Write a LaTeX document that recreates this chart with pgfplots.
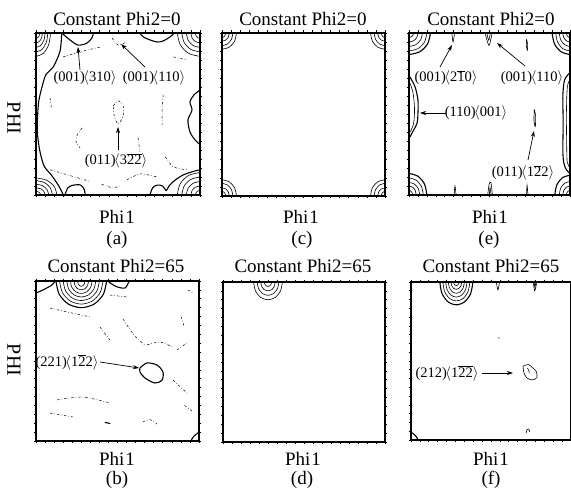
\documentclass[border=0pt]{standalone}
\usepackage{fontspec}
\setmainfont{Liberation Serif}
\usepackage{pgfplots}
\pgfplotsset{compat=1.18}
\usetikzlibrary{arrows.meta}
\newcommand{\ob}[1]{\ensuremath{\overline{\mbox{#1}}}}
\newcommand{\la}{\kern-1.5pt\ensuremath{\langle}}
\newcommand{\ra}{\ensuremath{\rangle}}
\newcommand{\tf}{\fontsize{19}{22}\selectfont}
\newcommand{\af}{\fontsize{14.5}{17}\selectfont}
\pgfplotsset{
 odf/.style={scale only axis, anchor=north west, xmin=0,xmax=90,ymin=0,ymax=90, y dir=reverse,
   xtick={0,5,...,90}, ytick={0,5,...,90}, xticklabels={}, yticklabels={},
   xtick pos=both, ytick pos=both, tick align=outside, major tick length=2.5pt,
   every tick/.style={black,line width=0.6pt}, axis line style={line width=1.3pt}, clip=true},
 cs/.style={black, line width=0.6pt, smooth, mark=none},
 ct/.style={black, line width=1.1pt, smooth, mark=none},
 cd/.style={black, line width=0.5pt, smooth, mark=none, dash pattern=on 2.5pt off 2pt on 0.6pt off 2pt},
}
\tikzset{ann/.style={line width=0.7pt, -{Stealth[length=6pt,width=4pt]}}}
\begin{document}
\begin{tikzpicture}
\path[use as bounding box] (0,0) rectangle (571pt,-489pt);
% ---------------- (a)
\begin{axis}[odf, at={(36pt,-33pt)}, width=164pt, height=162pt]
% TL
\addplot[cs] coordinates {(2,0)(1.74,1.5)(1,2.61)(0,3)};
\addplot[cs] coordinates {(3.5,0)(3.05,2.75)(1.75,4.79)(0,5.5)};
\addplot[cs] coordinates {(5,0)(4.35,4)(2.5,6.96)(0,8)};
\addplot[cs] coordinates {(6.5,0)(5.66,5.25)(3.25,9.14)(0,10.5)};
\addplot[cs] coordinates {(8,0)(6.96,6.5)(4,11.31)(0,13)};
% TR
\addplot[cs] coordinates {(87.5,0)(87.83,1.5)(88.75,2.61)(90,3)};
\addplot[cs] coordinates {(85,0)(85.65,2.75)(87.5,4.79)(90,5.5)};
\addplot[cs] coordinates {(82.5,0)(83.48,4)(86.25,6.96)(90,8)};
\addplot[cs] coordinates {(80,0)(81.3,5.25)(85,9.14)(90,10.5)};
\addplot[cs] coordinates {(77.5,0)(79.13,6.5)(83.75,11.31)(90,13)};
% BL
\addplot[cs] coordinates {(2.5,90)(2.18,89)(1.25,88.26)(0,88)};
\addplot[cs] coordinates {(5,90)(4.35,88)(2.5,86.52)(0,86)};
\addplot[cs] coordinates {(7,90)(6.09,87)(3.5,84.78)(0,84)};
\addplot[cs] coordinates {(9,90)(7.83,86)(4.5,83.04)(0,82)};
\addplot[cs] coordinates {(11.5,90)(10.01,85.25)(5.75,81.74)(0,80.5)};
% BR
\addplot[cs] coordinates {(87.5,90)(87.83,88.75)(88.75,87.83)(90,87.5)};
\addplot[cs] coordinates {(85,90)(85.65,87.5)(87.5,85.65)(90,85)};
\addplot[cs] coordinates {(82.5,90)(83.48,86.25)(86.25,83.48)(90,82.5)};
\addplot[cs] coordinates {(80,90)(81.3,85)(85,81.3)(90,80)};
\addplot[cs] coordinates {(77.5,90)(79.13,83.75)(83.75,79.13)(90,77.5)};
% solid level
\addplot[ct] coordinates {(14.1,0)(13.2,10)(9.4,19)(5.5,23)(3.3,30)(1.5,38)(0.8,48)(0.9,57)(2.2,66)(4.5,74)(8.5,79)(12.5,85)(15,90)};
\addplot[ct] coordinates {(14.1,0)(18.7,3.9)(23.1,6.7)(27.8,5.7)(30.6,2.9)(31.5,0)};
\addplot[ct] coordinates {(57,0)(58.9,2.2)(62.7,3.9)(66.5,5)(69.8,4.4)(73.5,2.2)(76,0)};
\addplot[ct] coordinates {(90,31.7)(86.7,34.4)(84.5,38.3)(85.6,42.8)(83.4,48.3)(84.5,55)(87.3,59.4)(90,62)};
\addplot[ct] coordinates {(15.9,90)(17.5,86)(20.5,84.5)(24.5,84.5)(26.5,87)(27,90)};
\addplot[ct] coordinates {(62.5,90)(64,86)(66.5,84.5)(69.5,85)(71.5,87.5)(73,85)(76,82)(80.5,79)(86,77)(90,76)};
% dash-dot level
\addplot[cd] coordinates {(42.4,40.5)(45.1,37.7)(47.8,40.5)(47.8,46)(45.1,50.5)(42.9,46)(42.4,40.5)};
\addplot[cd] coordinates {(25.3,52.7)(22.6,56.6)(22,60.5)(24.2,63.8)};
\addplot[cd] coordinates {(7.7,76)(18.7,79.2)(29.7,82.5)};
\addplot[cd] coordinates {(50,81.6)(57.2,78.3)(66.5,80)};
\addplot[cd] coordinates {(69.8,34.4)(69.2,42)(69.2,51)};
\addplot[cd] coordinates {(41.8,2.8)(45.1,6.7)(49.5,5)};
\addplot[cd] coordinates {(14.9,13.3)(24.2,10.5)(35.2,7.8)};
\addplot[cd] coordinates {(75.4,13.3)(83,15)};
\addplot[cd] coordinates {(71,68.8)(75.4,74.4)(83,76)};
\addplot[cd] coordinates {(7.7,36)(8.5,42)};
\addplot[cd] coordinates {(56,58)(57,66)};
\addplot[cd] coordinates {(36,84)(42,86)(46,85)};
\end{axis}
% ---------------- (c)
\begin{axis}[odf, at={(222pt,-33pt)}, width=163pt, height=163pt]
\addplot[cs] coordinates {(2,0)(1.74,1.25)(1,2.18)(0,2.5)};
\addplot[cs] coordinates {(4,0)(3.48,2.25)(2,3.92)(0,4.5)};
\addplot[cs] coordinates {(6,0)(5.22,3.5)(3,6.09)(0,7)};
\addplot[cs] coordinates {(8,0)(6.96,4.5)(4,7.83)(0,9)};
\addplot[cs] coordinates {(88,0)(88.26,1.25)(89,2.18)(90,2.5)};
\addplot[cs] coordinates {(86,0)(86.52,2.25)(88,3.92)(90,4.5)};
\addplot[cs] coordinates {(84,0)(84.78,3.5)(87,6.09)(90,7)};
\addplot[cs] coordinates {(82,0)(83.04,4.5)(86,7.83)(90,9)};
\addplot[cs] coordinates {(2,90)(1.74,88.75)(1,87.82)(0,87.5)};
\addplot[cs] coordinates {(4,90)(3.48,87.75)(2,86.08)(0,85.5)};
\addplot[cs] coordinates {(6,90)(5.22,86.5)(3,83.91)(0,83)};
\addplot[cs] coordinates {(8,90)(6.96,85.5)(4,82.17)(0,81)};
\addplot[cs] coordinates {(88,90)(88.26,88.75)(89,87.82)(90,87.5)};
\addplot[cs] coordinates {(86,90)(86.52,87.75)(88,86.08)(90,85.5)};
\addplot[cs] coordinates {(84,90)(84.78,86.5)(87,83.91)(90,83)};
\addplot[cs] coordinates {(82,90)(83.04,85.5)(86,82.17)(90,81)};
\end{axis}
% ---------------- (e)
\begin{axis}[odf, at={(409pt,-33pt)}, width=161pt, height=162pt]
\addplot[cs] coordinates {(2.5,0)(2.18,1.25)(1.25,2.18)(0,2.5)};
\addplot[cs] coordinates {(5,0)(4.35,2.5)(2.5,4.35)(0,5)};
\addplot[cs] coordinates {(7.5,0)(6.53,3.75)(3.75,6.53)(0,7.5)};
\addplot[cs] coordinates {(10,0)(8.7,5)(5,8.7)(0,10)};
\addplot[ct] coordinates {(12,0)(10.44,6)(6,10.44)(0,12)};
\addplot[cs] coordinates {(88,0)(88.26,1.25)(89,2.18)(90,2.5)};
\addplot[cs] coordinates {(86,0)(86.52,2.5)(88,4.35)(90,5)};
\addplot[cs] coordinates {(84,0)(84.78,3.75)(87,6.53)(90,7.5)};
\addplot[cs] coordinates {(82,0)(83.04,5)(86,8.7)(90,10)};
\addplot[ct] coordinates {(80,0)(81.3,6)(85,10.44)(90,12)};
\addplot[cs] coordinates {(2,90)(1.74,88.75)(1,87.82)(0,87.5)};
\addplot[cs] coordinates {(4,90)(3.48,87.5)(2,85.65)(0,85)};
\addplot[cs] coordinates {(6,90)(5.22,86.5)(3,83.91)(0,83)};
\addplot[cs] coordinates {(8,90)(6.96,85.25)(4,81.74)(0,80.5)};
\addplot[ct] coordinates {(10,90)(8.7,84)(5,79.56)(0,78)};
\addplot[cs] coordinates {(88,90)(88.26,88.75)(89,87.82)(90,87.5)};
\addplot[cs] coordinates {(86,90)(86.52,87.5)(88,85.65)(90,85)};
\addplot[cs] coordinates {(84,90)(84.78,86.25)(87,83.48)(90,82.5)};
\addplot[ct] coordinates {(81.5,90)(82.6,84.5)(85.75,80.43)(90,79)};
% left and right edge ridges
\addplot[ct] coordinates {(0.6,24.5)(3.4,30)(5,37.2)(5,44.5)(4.5,50)(1.7,55.6)(0.6,57.8)};
\addplot[cs] coordinates {(0.6,28)(2.2,33)(3,40)(3,46)(2.4,51)(0.6,55)};
\addplot[ct] coordinates {(90,22)(87,26)(86,35)(86.2,50)(86,65)(86.5,72)(88,76)(90,78)};
\addplot[cs] coordinates {(90,26)(88.5,30)(88,45)(88.2,65)(88.5,72)(90,75)};
% small peaks
\addplot[cs] coordinates {(24,0)(24.6,5)(25.5,0)};
\addplot[cs] coordinates {(42.5,0)(44.2,6)(45,6.5)(46.5,0)};
\addplot[cs] coordinates {(43.5,0)(44.6,4)(45.5,0)};
\addplot[cs] coordinates {(65.7,3.5)(66.3,6)(66.2,9.5)(65.6,7)(65.7,3.5)};
\addplot[cs] coordinates {(70,42.5)(70.8,46)(70.6,52)(69.9,49)(70,42.5)};
\addplot[cs] coordinates {(25.2,90)(25.7,85)(26.3,90)};
\addplot[cs] coordinates {(44,90)(44.8,84)(45.8,83)(46.6,90)};
\addplot[cs] coordinates {(44.9,90)(45.3,86)(45.9,90)};
\addplot[cs] coordinates {(65.7,90)(66,84.5)(66.5,90)};
\end{axis}
% ---------------- (b)
\begin{axis}[odf, at={(36pt,-281pt)}, width=163pt, height=160pt]
\addplot[cs] coordinates {(23,0)(23.26,1.5)(24,2.61)(25,3)(26,2.61)(26.74,1.5)(27,0)};
\addplot[cs] coordinates {(21,0)(21.52,2.5)(23,4.35)(25,5)(27,4.35)(28.48,2.5)(29,0)};
\addplot[cs] coordinates {(19,0)(19.78,3.5)(22,6.09)(25,7)(28,6.09)(30.22,3.5)(31,0)};
\addplot[cs] coordinates {(17,0)(18.04,4.5)(21,7.83)(25,9)(29,7.83)(31.96,4.5)(33,0)};
\addplot[cs] coordinates {(15,0)(16.3,5.5)(20,9.57)(25,11)(30,9.57)(33.7,5.5)(35,0)};
\addplot[cs] coordinates {(13,0)(14.56,6.5)(19,11.31)(25,13)(31,11.31)(35.44,6.5)(37,0)};
\addplot[ct] coordinates {(11,0)(12.82,7.5)(18,13.05)(25,15)(32,13.05)(37.18,7.5)(39,0)};
\addplot[ct] coordinates {(0,6.75)(3.9,5)(8.8,2.25)(10.5,0)};
\addplot[ct] coordinates {(39.5,0)(44,3)(49,4)(51,1)(51.5,0)};
\addplot[ct] coordinates {(57.4,48.9)(61.3,46.1)(66.8,47.3)(70.1,51.2)(69.6,55.7)(65.7,57.4)(60.2,54.6)(57.4,51.2)(57.4,48.9)};
\addplot[ct] coordinates {(85.5,90)(87,87.5)(90,85)};
\addplot[ct] coordinates {(38,79.5)(41,80.2)};
\addplot[cd] coordinates {(7.7,15.2)(17.1,17.4)(29.8,20.2)};
\addplot[cd] coordinates {(48,21.4)(54.6,31)(60.2,36)};
\addplot[cd] coordinates {(61.3,36)(68.5,34.3)(75.1,37.1)};
\addplot[cd] coordinates {(11.6,66.9)(25.9,65.3)(40.8,68.6)};
\addplot[cd] coordinates {(7.7,74.3)(20.4,76.5)};
\addplot[cd] coordinates {(59,79.3)(63,78)(66.8,80.5)};
\addplot[cd] coordinates {(40.8,7.9)(50.2,9)};
\addplot[cd] coordinates {(83.9,5)(86.6,6.75)};
\addplot[cd] coordinates {(77.8,38.8)(83.3,34.9)};
\addplot[cd] coordinates {(75.6,55.7)(83.3,63)};
\addplot[cd] coordinates {(35.3,25.9)(40.8,33.2)};
\addplot[cd] coordinates {(80,20)(82,26)};
\addplot[cd] coordinates {(82,70)(86,73)};
\end{axis}
% ---------------- (d)
\begin{axis}[odf, at={(223pt,-282pt)}, width=162pt, height=160pt]
\addplot[cs] coordinates {(23,0)(23.26,1.25)(24,2.18)(25,2.5)(26,2.18)(26.74,1.25)(27,0)};
\addplot[cs] coordinates {(21,0)(21.52,2.5)(23,4.35)(25,5)(27,4.35)(28.48,2.5)(29,0)};
\addplot[cs] coordinates {(19,0)(19.78,3.75)(22,6.53)(25,7.5)(28,6.53)(30.22,3.75)(31,0)};
\addplot[cs] coordinates {(17,0)(18.04,5)(21,8.7)(25,10)(29,8.7)(31.96,5)(33,0)};
\end{axis}
% ---------------- (f)
\begin{axis}[odf, at={(411pt,-282pt)}, width=160pt, height=158pt]
\addplot[cs] coordinates {(24,0)(24.2,1)(24.75,1.74)(25.5,2)(26.25,1.74)(26.8,1)(27,0)};
\addplot[cs] coordinates {(22.5,0)(22.89,2.1)(24,3.65)(25.5,4.2)(27,3.65)(28.11,2.1)(28.5,0)};
\addplot[cs] coordinates {(21,0)(21.59,3.2)(23.25,5.57)(25.5,6.4)(27.75,5.57)(29.41,3.2)(30,0)};
\addplot[cs] coordinates {(19.5,0)(20.28,4.3)(22.5,7.48)(25.5,8.6)(28.5,7.48)(30.72,4.3)(31.5,0)};
\addplot[cs] coordinates {(17.9,0)(18.89,5.4)(21.7,9.4)(25.5,10.8)(29.3,9.4)(32.11,5.4)(33.1,0)};
\addplot[ct] coordinates {(16.2,0)(17.41,6.5)(20.85,11.31)(25.5,13)(30.15,11.31)(33.59,6.5)(34.8,0)};
\addplot[cs] coordinates {(48,0)(48.9,4.5)(49.8,0)};
\addplot[cs] coordinates {(68.8,0)(69.6,5)(70.8,0)};
\addplot[cs] coordinates {(69.3,0)(69.7,3)(70.2,0)};
\addplot[cs] coordinates {(63,48)(66,47)(68,48.5)(70.5,51)(70.8,54.5)(68,55.8)(65,54.5)(63.5,51.5)(63,48)};
\addplot[cs] coordinates {(65.5,49)(66.3,50.5)(66.5,52)};
\addplot[cs] coordinates {(64.8,86)(65.3,84)(66.3,83.8)(66.8,85.5)};
\addplot[ct] coordinates {(0,85.5)(2.5,87.5)(4,90)};
\addplot[cs] coordinates {(49.3,31.5)(49.7,32.2)};
\end{axis}
% ---------------- titles and labels
\foreach \x/\y in {117/19,303/19,491/19} \node[font=\tf] at (\x pt,-\y pt) {Constant Phi2=0};
\foreach \x/\y in {116/266,303/266,491/266} \node[font=\tf] at (\x pt,-\y pt) {Constant Phi2=65};
\foreach \x/\y in {117/217,301/217,490/217,117/459,303/459,491/459} \node[font=\tf] at (\x pt,-\y pt) {Phi\kern1pt1};
\node[font=\tf] at (117pt,-240pt) {(a)};
\node[font=\tf] at (302pt,-240pt) {(c)};
\node[font=\tf] at (489pt,-240pt) {(e)};
\node[font=\tf] at (117pt,-480pt) {(b)};
\node[font=\tf] at (302pt,-480pt) {(d)};
\node[font=\tf] at (491pt,-480pt) {(f)};
\node[font=\fontsize{20}{22}\selectfont, rotate=-90] at (14pt,-118pt) {PHI};
\node[font=\fontsize{20}{22}\selectfont, rotate=-90] at (14pt,-360pt) {PHI};
% ---------------- annotations
\node[font=\af] at (85pt,-78pt) {(001)\la310\ra};
\draw[ann] (80pt,-70pt) -- (78pt,-47pt);
\node[font=\af] at (154pt,-78pt) {(001)\la110\ra};
\draw[ann] (145pt,-67pt) -- (121pt,-44pt);
\node[font=\af] at (116pt,-161pt) {(011)\la3\ob{2}\ob{2}\ra};
\draw[ann] (118pt,-150pt) -- (118pt,-127pt);
\node[font=\af] at (446pt,-78pt) {(001)\la2\ob{1}0\ra};
\draw[ann] (440pt,-67pt) -- (452pt,-45pt);
\node[font=\af] at (532pt,-78pt) {(001)\la110\ra};
\draw[ann] (525pt,-66pt) -- (497pt,-43pt);
\node[font=\af] at (476pt,-113pt) {(110)\la001\ra};
\draw[ann] (446pt,-113pt) -- (420pt,-113pt);
\node[font=\af] at (523pt,-173pt) {(011)\la1\ob{2}2\ra};
\draw[ann] (528pt,-160pt) -- (534pt,-131pt);
\node[font=\af] at (67pt,-362pt) {(221)\la1\ob{2}2\ra};
\draw[ann] (100pt,-362pt) -- (139pt,-368pt);
\node[font=\af] at (447pt,-373pt) {(212)\la1\ob{2}\ob{2}\ra};
\draw[ann] (482pt,-373pt) -- (513pt,-373pt);
\end{tikzpicture}
\end{document}
